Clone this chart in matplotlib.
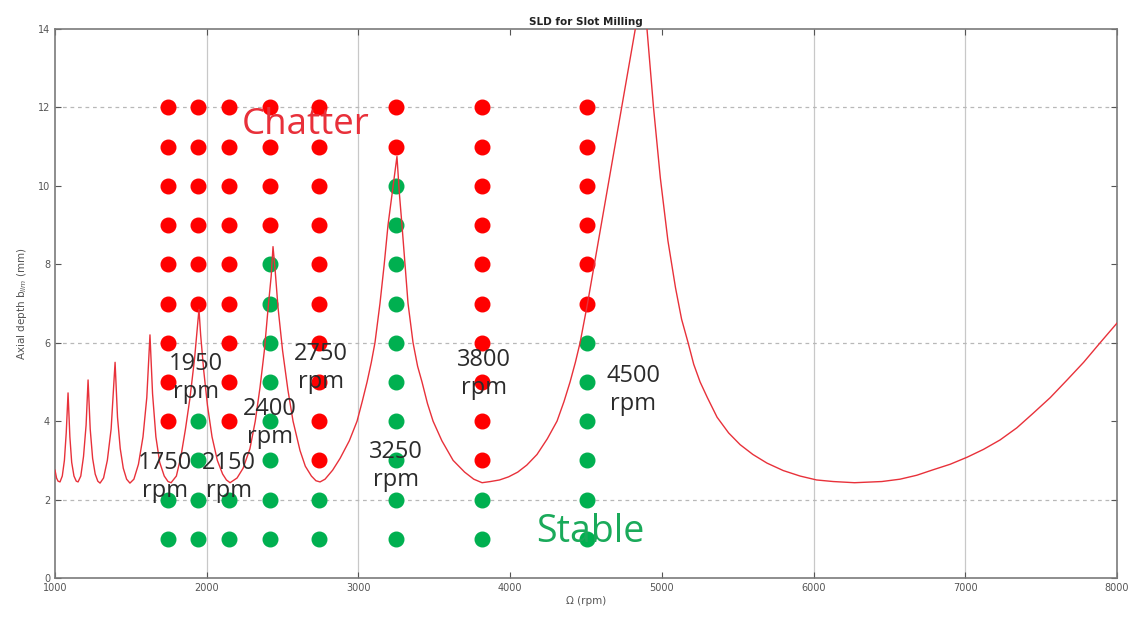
import matplotlib
matplotlib.use("Agg")
import matplotlib.pyplot as plt

# ---- stability lobe curve ----
lobe_rpm = [1000, 1010, 1020, 1033, 1048, 1062, 1074, 1086,
            1098, 1110, 1125, 1140, 1152, 1170, 1188, 1205, 1218,
            1232, 1248, 1265, 1282, 1297, 1320, 1345, 1370, 1396,
            1412, 1430, 1450, 1472, 1494, 1520, 1550, 1580, 1605, 1626,
            1643, 1665, 1690, 1720, 1745, 1765, 1800, 1830, 1860, 1890, 1920, 1949,
            1960, 1980, 2005, 2035, 2070, 2105, 2130, 2154, 2200, 2240, 2285, 2320,
            2351, 2380, 2405, 2425, 2437,
            2450, 2470, 2500, 2535, 2569, 2615, 2650, 2690, 2720, 2747,
            2780, 2830, 2879, 2940, 2991, 3025, 3057, 3085, 3109, 3142, 3170, 3195, 3225, 3254,
            3270, 3287, 3307, 3327, 3360, 3390, 3419, 3455, 3492, 3550, 3624, 3700, 3760, 3815,
            3870, 3930, 3990, 4050, 4110, 4177, 4245, 4309, 4355, 4395, 4430, 4461, 4510, 4555,
            4600, 4645, 4690, 4735, 4780, 4825, 4873,
            4902, 4945, 4990, 5040, 5090, 5130, 5173, 5210, 5252, 5300, 5364, 5440, 5516,
            5600, 5693, 5800, 5911, 6020, 6129, 6270, 6450, 6570, 6680, 6788, 6900, 7012,
            7120, 7229, 7340, 7447, 7560, 7671, 7780, 7889, 8000]
lobe_depth = [2.75, 2.55, 2.47, 2.45, 2.6, 3.0, 3.7, 4.72,
              3.6, 2.95, 2.6, 2.47, 2.45, 2.6, 3.1, 3.9, 5.05,
              3.8, 3.05, 2.65, 2.47, 2.42, 2.55, 3.0, 3.8, 5.5,
              4.1, 3.3, 2.8, 2.52, 2.42, 2.52, 2.9, 3.6, 4.6, 6.2,
              4.7, 3.6, 2.95, 2.6, 2.46, 2.43, 2.6, 3.1, 3.8, 4.6, 5.6, 6.85,
              6.2, 5.3, 4.4, 3.6, 3.0, 2.65, 2.5, 2.43, 2.55, 2.8, 3.3, 4.0,
              4.85, 5.8, 6.9, 7.7, 8.45,
              7.9, 6.9, 5.8, 4.8, 4.0, 3.25, 2.85, 2.6, 2.48, 2.45,
              2.52, 2.75, 3.05, 3.5, 4.0, 4.5, 5.0, 5.5, 6.0, 7.0, 8.0, 9.0, 9.9, 10.75,
              9.8, 9.0, 8.0, 7.0, 6.0, 5.4, 5.0, 4.45, 4.0, 3.5, 3.0, 2.7, 2.52, 2.43,
              2.46, 2.5, 2.58, 2.7, 2.88, 3.15, 3.55, 4.0, 4.5, 5.0, 5.5, 6.0, 7.0, 8.0,
              9.0, 10.0, 11.0, 12.0, 13.0, 14.0, 15.3,
              14.0, 12.0, 10.2, 8.6, 7.4, 6.6, 6.0, 5.45, 5.0, 4.6, 4.1, 3.7, 3.4,
              3.15, 2.93, 2.74, 2.6, 2.5, 2.46, 2.43, 2.46, 2.52, 2.62, 2.76, 2.9, 3.08,
              3.28, 3.52, 3.83, 4.2, 4.6, 5.05, 5.5, 6.0, 6.5]

# ---- cutting tests (columns of dots) ----
test_cols = ["1750", "1950", "2150", "2400", "2750", "3250", "3800", "4500"]
test_x = [1745, 1940, 2145, 2420, 2740, 3245, 3815, 4505]
chatter_depths = [
    [4, 5, 6, 7, 8, 9, 10, 11, 12],
    [7, 8, 9, 10, 11, 12],
    [4, 5, 6, 7, 8, 9, 10, 11, 12],
    [9, 10, 11, 12],
    [3, 4, 5, 6, 7, 8, 9, 10, 11, 12],
    [11, 12],
    [3, 4, 5, 6, 7, 8, 9, 10, 11, 12],
    [7, 8, 9, 10, 11, 12],
]
stable_depths = [
    [1, 2],
    [1, 2, 3, 4],
    [1, 2],
    [1, 2, 3, 4, 5, 6, 7, 8],
    [1, 2],
    [1, 2, 3, 4, 5, 6, 7, 8, 9, 10],
    [1, 2],
    [1, 2, 3, 4, 5, 6],
]

# label positions (centre of the two-line "xxxx rpm" labels)
label_x = [1725, 1929, 2147, 2417, 2754, 3248, 3828, 4810]
label_y = [2.58, 5.1, 2.58, 3.95, 5.36, 2.86, 5.2, 4.8]

xticks = [1000, 2000, 3000, 4000, 5000, 6000, 7000, 8000]
yticks = [0, 2, 4, 6, 8, 10, 12, 14]
vgrid = [2000, 3000, 6000, 7000]
hgrid = [2, 6, 12]

RED = "#ff0000"
GREEN = "#00b050"
CURVE = "#e8313a"

fig = plt.figure(figsize=(11.32, 6.17), dpi=100)
ax = fig.add_axes([55 / 1132, 39 / 617, 1062 / 1132, 549 / 617])

ax.set_xlim(1000, 8000)
ax.set_ylim(0, 14)

for gx in vgrid:
    ax.axvline(gx, color="#c8c8c8", lw=0.9, zorder=0)
for gy in hgrid:
    ax.axhline(gy, color="#b8b8b8", lw=0.9, ls=(0, (3, 3)), zorder=0)

for x, cd, sd in zip(test_x, chatter_depths, stable_depths):
    ax.plot([x] * len(cd), cd, ls="none", marker="o", ms=10.5,
            color=RED, mec=RED, zorder=2)
    ax.plot([x] * len(sd), sd, ls="none", marker="o", ms=10.5,
            color=GREEN, mec=GREEN, zorder=2)

ax.plot(lobe_rpm, lobe_depth, color=CURVE, lw=1.0, zorder=3, clip_on=True)

for name, lx, ly in zip(test_cols, label_x, label_y):
    ax.text(lx, ly, name + "\nrpm", ha="center", va="center",
            fontsize=17, color="#2b2b2b", family="Open Sans",
            linespacing=1.2, zorder=4)

ax.text(2655, 11.55, "Chatter", ha="center", va="center", fontsize=26.5,
        color="#e8303a", family="Open Sans", zorder=4)
ax.text(4527, 1.17, "Stable", ha="center", va="center", fontsize=27,
        color="#1aaa5a", family="Open Sans", zorder=4)

ax.set_xticks(xticks)
ax.set_yticks(yticks)
ax.tick_params(direction="in", top=True, right=True, labelsize=7,
               colors="#555555", length=4)
for s in ax.spines.values():
    s.set_color("#7a7a7a")
    s.set_linewidth(1.2)

ax.set_title("SLD for Slot Milling", fontsize=7.5, fontweight="bold",
             color="#222222", pad=3)
ax.set_xlabel("\u03a9 (rpm)", fontsize=7.5, color="#555555", labelpad=2)
ax.set_ylabel("Axial depth b$_{lim}$ (mm)", fontsize=7.5, color="#555555",
              labelpad=6)

fig.savefig("out.png", dpi=100)
